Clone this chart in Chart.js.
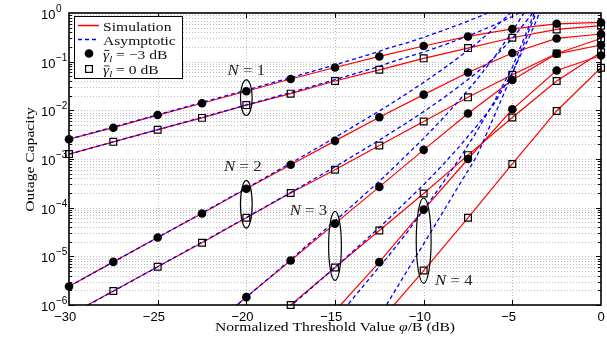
<!DOCTYPE html>
<html lang="en">
<head>
  <meta charset="UTF-8">
  <title>Outage Capacity vs Normalized Threshold</title>
  <style>
    body {
      margin: 0;
      background: #fff;
    }
    canvas {
      display: block;
    }
  </style>
</head>
<body>
<canvas id="outageChart" width="607" height="347"></canvas>

<script src="https://cdn.jsdelivr.net/npm/chart.js"></script>
<script>
  // threshold grid of the simulated points (dB)
  const thresholdDb = [-30, -27.5, -25, -22.5, -20, -17.5, -15, -12.5, -10, -7.5, -5, -2.5, 0];

  // simulation, circles = gamma_l -3 dB, squares = gamma_l 0 dB
  const simN1Minus3 = [2.55e-3, 4.4e-3, 8.0e-3, 1.4e-2, 2.47e-2, 4.4e-2, 7.6e-2, 0.128, 0.21, 0.33, 0.47, 0.60, 0.64];
  const simN1Zero = [1.26e-3, 2.25e-3, 4.0e-3, 7.0e-3, 1.28e-2, 2.2e-2, 4.0e-2, 6.8e-2, 0.117, 0.19, 0.31, 0.46, 0.55];
  const simN2Minus3 = [2.4e-6, 7.7e-6, 2.44e-5, 7.6e-5, 2.44e-4, 7.6e-4, 2.36e-3, 7.2e-3, 2.1e-2, 6.0e-2, 0.151, 0.30, 0.37];
  const simN2Zero = [6.2e-7, 1.94e-6, 6.1e-6, 1.9e-5, 6.2e-5, 2.0e-4, 6.0e-4, 1.9e-3, 5.9e-3, 1.85e-2, 5.4e-2, 0.147, 0.30];
  const simN3Minus3 = [null, null, null, 2.6e-7, 1.45e-6, 8.2e-6, 4.7e-5, 2.67e-4, 1.54e-3, 8.6e-3, 4.2e-2, 0.145, 0.22];
  const simN3Zero = [null, null, null, null, 1.7e-7, 1.0e-6, 5.9e-6, 3.4e-5, 1.96e-4, 1.2e-3, 7.1e-3, 4.0e-2, 0.156];
  const simN4Minus3 = [null, null, null, null, null, null, 7.5e-7, 7.6e-6, 9.1e-5, 1.0e-3, 1.05e-2, 6.6e-2, 0.134];
  const simN4Zero = [null, null, null, null, null, null, null, 4.5e-7, 5.1e-6, 6.2e-5, 7.9e-4, 9.7e-3, 7.5e-2];

  // asymptotic curves, read on a finer grid near the top
  const asymDb = [-30, -25, -20, -17.5, -15, -12.5, -12, -11, -10, -9, -8, -7, -6, -5, -4, -3, -2];
  const asymN1Minus3 = [2.55e-3, 8.1e-3, 2.6e-2, 4.7e-2, 8.6e-2, 0.162, 0.19, 0.24, 0.318, 0.426, 0.579, 0.805, 1.15, null, null, null, null];
  const asymN1Zero = [1.26e-3, 4.0e-3, 1.29e-2, 2.32e-2, 4.27e-2, 8.0e-2, 9.3e-2, 0.122, 0.157, 0.210, 0.286, 0.398, 0.569, 0.847, 1.33, null, null];
  const asymN2Minus3 = [2.41e-6, 2.43e-5, 2.5e-4, 8.2e-4, 2.76e-3, 9.7e-3, 1.26e-2, 2.15e-2, 3.75e-2, 6.7e-2, 0.124, 0.240, 0.491, 1.09, null, null, null];
  const asymN2Zero = [6.05e-7, 6.1e-6, 6.28e-5, 2.05e-4, 6.9e-4, 2.44e-3, 3.2e-3, 5.4e-3, 9.4e-3, 1.68e-2, 3.11e-2, 6.0e-2, 0.123, 0.30, 0.85, 2.5, null];
  const asymN3Minus3 = [null, 4.4e-8, 1.45e-6, 8.56e-6, 5.3e-5, 3.5e-4, 5.2e-4, 1.17e-3, 2.65e-3, 6.34e-3, 1.6e-2, 4.29e-2, 0.126, 0.415, 1.6, null, null];
  const asymN3Zero = [null, null, 1.61e-7, 9.5e-7, 5.9e-6, 3.9e-5, 5.8e-5, 1.32e-4, 2.96e-4, 7.06e-4, 1.78e-3, 4.78e-3, 1.4e-2, 6.0e-2, 0.35, 2.5, null];
  const asymN4Minus3 = [null, null, null, null, 4.92e-7, 6.11e-6, 1.0e-5, 2.9e-5, 9.1e-5, 2.91e-4, 9.95e-4, 3.72e-3, 1.56e-2, 7.66e-2, 0.6, 5.0, null];
  const asymN4Zero = [null, null, null, null, null, 5.7e-7, 1.15e-6, 4.6e-6, 1.8e-5, 7.2e-5, 2.9e-4, 1.15e-3, 7.9e-3, 5.6e-2, 0.5, 4.0, null];

  // axis ticks
  const xTickValues = [-30, -25, -20, -15, -10, -5, 0];
  const yDecades = [-6, -5, -4, -3, -2, -1, 0];

  // N = k labels and ellipses (data coordinates)
  const groupMarks = [
    {n: '1', label: [-20, 0.067], x: -20, top: 0.0423, bottom: 7.83e-3, halfDb: 0.33},
    {n: '2', label: [-20.2, 7.2e-4], x: -20, top: 3.63e-4, bottom: 3.8e-5, halfDb: 0.33},
    {n: '3', label: [-16.5, 9.1e-5], x: -15, top: 8.4e-5, bottom: 3.2e-6, halfDb: 0.36},
    {n: '4', label: [-8.3, 3.27e-6], x: -10, top: 1.58e-4, bottom: 2.8e-6, halfDb: 0.42}
  ];

  const RED = '#ff0000';
  const BLUE = '#0000ff';
  const SANS = '"Liberation Sans", Arial, sans-serif';
  const SERIF = '"Liberation Serif", "Times New Roman", serif';
  const SERIF_STRETCH = 1.2; // the original serif is wider than Times

  function points(xs, ys) {
    return xs.map((x, i) => ({x: x, y: ys[i]})).filter(p => p.y !== null);
  }

  const curves = [
    {sim: simN1Minus3, asym: asymN1Minus3, marker: 'circle'},
    {sim: simN1Zero, asym: asymN1Zero, marker: 'rect'},
    {sim: simN2Minus3, asym: asymN2Minus3, marker: 'circle'},
    {sim: simN2Zero, asym: asymN2Zero, marker: 'rect'},
    {sim: simN3Minus3, asym: asymN3Minus3, marker: 'circle'},
    {sim: simN3Zero, asym: asymN3Zero, marker: 'rect'},
    {sim: simN4Minus3, asym: asymN4Minus3, marker: 'circle'},
    {sim: simN4Zero, asym: asymN4Zero, marker: 'rect'}
  ];

  const datasets = [];
  curves.forEach(c => {
    const simPts = points(thresholdDb, c.sim);
    const isCircle = c.marker === 'circle';
    // markers on top
    datasets.push({
      data: simPts.filter(p => p.y >= 0.99e-6 && p.y <= 1),
      showLine: false,
      pointStyle: c.marker,
      pointRadius: isCircle ? 4.3 : 4.8,
      pointHoverRadius: isCircle ? 4.3 : 4.8,
      pointBackgroundColor: isCircle ? '#000' : 'rgba(0,0,0,0)',
      pointBorderColor: '#000',
      pointBorderWidth: isCircle ? 0 : 1.2,
      clip: 8,
      order: 0
    });
    datasets.push({
      data: points(asymDb, c.asym),
      showLine: true,
      borderColor: BLUE,
      borderWidth: 1.3,
      borderDash: [4, 3],
      pointRadius: 0,
      order: 1
    });
    datasets.push({
      data: simPts,
      showLine: true,
      borderColor: RED,
      borderWidth: 1.2,
      pointRadius: 0,
      order: 2
    });
  });

  // draws a list of text parts in a row; each part: {t, size, italic, dy, bar}
  function drawRich(ctx, parts, x, y, align, stretch) {
    ctx.save();
    ctx.textBaseline = 'alphabetic';
    ctx.textAlign = 'left';
    let w = 0;
    parts.forEach(p => {
      ctx.font = (p.italic ? 'italic ' : '') + p.size + 'px ' + SERIF;
      w += ctx.measureText(p.t).width;
    });
    const start = align === 'center' ? x - w * stretch / 2 : x;
    ctx.translate(start, y);
    ctx.scale(stretch, 1);
    let cx = 0;
    parts.forEach(p => {
      ctx.font = (p.italic ? 'italic ' : '') + p.size + 'px ' + SERIF;
      const pw = ctx.measureText(p.t).width;
      ctx.fillText(p.t, cx, p.dy || 0);
      if (p.bar) {
        ctx.beginPath();
        ctx.lineWidth = 0.8;
        ctx.moveTo(cx + pw * 0.2, -p.size * 0.62);
        ctx.lineTo(cx + pw * 1.05, -p.size * 0.62);
        ctx.stroke();
      }
      cx += pw;
    });
    ctx.restore();
  }

  function gammaLabel(value) {
    return [
      {t: 'γ', size: 13, italic: true, bar: true},
      {t: 'l', size: 9, italic: true, dy: 3},
      {t: ' = ' + value + ' dB', size: 13}
    ];
  }

  const decorPlugin = {
    id: 'decor',
    beforeDatasetsDraw(chart) {
      const {ctx, chartArea: a, scales: {x, y}} = chart;
      ctx.save();
      ctx.strokeStyle = '#bdbdbd';
      ctx.lineWidth = 1;
      ctx.setLineDash([1, 2]);
      ctx.beginPath();
      xTickValues.slice(1, -1).forEach(v => {
        const px = Math.round(x.getPixelForValue(v)) + 0.5;
        ctx.moveTo(px, a.top);
        ctx.lineTo(px, a.bottom);
      });
      for (let e = -6; e < 0; e++) {
        for (let m = 1; m <= 9; m++) {
          if (e === -6 && m === 1) continue;
          const py = Math.round(y.getPixelForValue(m * Math.pow(10, e))) + 0.5;
          ctx.moveTo(a.left, py);
          ctx.lineTo(a.right, py);
        }
      }
      ctx.stroke();
      ctx.restore();
    },
    afterDatasetsDraw(chart) {
      const {ctx, chartArea: a, scales: {x, y}} = chart;
      ctx.save();

      // frame and inner ticks
      ctx.strokeStyle = '#000';
      ctx.lineWidth = 1;
      ctx.beginPath();
      xTickValues.slice(1, -1).forEach(v => {
        const px = Math.round(x.getPixelForValue(v)) + 0.5;
        ctx.moveTo(px, a.bottom);
        ctx.lineTo(px, a.bottom - 5);
        ctx.moveTo(px, a.top);
        ctx.lineTo(px, a.top + 5);
      });
      for (let e = -6; e < 0; e++) {
        for (let m = 1; m <= 9; m++) {
          const py = Math.round(y.getPixelForValue(m * Math.pow(10, e))) + 0.5;
          const len = m === 1 ? 5 : 3;
          ctx.moveTo(a.left, py);
          ctx.lineTo(a.left + len, py);
          ctx.moveTo(a.right, py);
          ctx.lineTo(a.right - len, py);
        }
      }
      ctx.stroke();
      ctx.lineWidth = 1.6;
      ctx.strokeRect(a.left, a.top, a.right - a.left, a.bottom - a.top);

      // ellipses and N labels
      ctx.lineWidth = 1.2;
      ctx.fillStyle = '#222';
      groupMarks.forEach(g => {
        const cx = x.getPixelForValue(g.x);
        const top = y.getPixelForValue(g.top);
        const bottom = y.getPixelForValue(g.bottom);
        const rx = x.getPixelForValue(g.x + g.halfDb) - cx;
        ctx.beginPath();
        ctx.ellipse(cx, (top + bottom) / 2, rx, (bottom - top) / 2, 0, 0, Math.PI * 2);
        ctx.stroke();
        drawRich(ctx, [
          {t: 'N', size: 14, italic: true},
          {t: ' = ' + g.n, size: 14}
        ], x.getPixelForValue(g.label[0]), y.getPixelForValue(g.label[1]) + 5, 'center', SERIF_STRETCH);
      });

      // legend box
      const lx = a.left + 5, ly = a.top + 3, lw = 108, lh = 62;
      ctx.fillStyle = '#fff';
      ctx.fillRect(lx, ly, lw, lh);
      ctx.strokeStyle = '#000';
      ctx.lineWidth = 1;
      ctx.strokeRect(lx + 0.5, ly + 0.5, lw, lh);
      const rowY = [ly + 9.5, ly + 23.5, ly + 37.5, ly + 53];
      ctx.lineWidth = 1.5;
      ctx.strokeStyle = RED;
      ctx.beginPath();
      ctx.moveTo(lx + 4, rowY[0]);
      ctx.lineTo(lx + 25, rowY[0]);
      ctx.stroke();
      ctx.strokeStyle = BLUE;
      ctx.setLineDash([4, 3]);
      ctx.beginPath();
      ctx.moveTo(lx + 4, rowY[1]);
      ctx.lineTo(lx + 25, rowY[1]);
      ctx.stroke();
      ctx.setLineDash([]);
      ctx.fillStyle = '#000';
      ctx.beginPath();
      ctx.arc(lx + 15, rowY[2], 4.3, 0, Math.PI * 2);
      ctx.fill();
      ctx.strokeStyle = '#000';
      ctx.lineWidth = 1.2;
      ctx.strokeRect(lx + 11.6, rowY[3] - 3.4, 6.8, 6.8);
      ctx.fillStyle = '#111';
      ctx.strokeStyle = '#111';
      const tx = lx + 29;
      drawRich(ctx, [{t: 'Simulation', size: 13}], tx, rowY[0] + 5, 'left', SERIF_STRETCH);
      drawRich(ctx, [{t: 'Asymptotic', size: 13}], tx, rowY[1] + 5, 'left', SERIF_STRETCH);
      drawRich(ctx, gammaLabel('−3'), tx, rowY[2] + 5, 'left', SERIF_STRETCH);
      drawRich(ctx, gammaLabel('0'), tx, rowY[3] + 5, 'left', SERIF_STRETCH);

      // x tick labels: digits centred on the tick, minus hanging left
      ctx.fillStyle = '#000';
      ctx.font = '13px ' + SANS;
      ctx.textBaseline = 'alphabetic';
      xTickValues.forEach(v => {
        const px = x.getPixelForValue(v);
        const digits = String(Math.abs(v));
        const dw = ctx.measureText(digits).width;
        ctx.textAlign = 'left';
        ctx.fillText(digits, px - dw / 2, a.bottom + 15.5);
        if (v < 0) {
          ctx.textAlign = 'right';
          ctx.fillText('−', px - dw / 2, a.bottom + 15.5);
        }
      });

      // y tick labels 10^k
      yDecades.forEach(e => {
        const py = y.getPixelForValue(Math.pow(10, e));
        ctx.textAlign = 'left';
        ctx.font = '13px ' + SANS;
        ctx.fillText('10', a.left - 28, py + 6);
        const w10 = ctx.measureText('10').width;
        ctx.font = '10px ' + SANS;
        ctx.fillText(e === 0 ? '0' : '−' + Math.abs(e), a.left - 28 + w10 + 0.5, py - 1);
      });

      // axis titles
      drawRich(ctx, [
        {t: 'Normalized Threshold Value ', size: 13},
        {t: 'φ', size: 13, italic: true},
        {t: '/B (dB)', size: 13}
      ], (a.left + a.right) / 2, a.bottom + 26, 'center', SERIF_STRETCH);

      ctx.translate(a.left - 39.5, (a.top + a.bottom) / 2 + 0.5);
      ctx.rotate(-Math.PI / 2);
      drawRich(ctx, [{t: 'Outage Capacity', size: 13}], 0, 4, 'center', SERIF_STRETCH);

      ctx.restore();
    }
  };

  new Chart(document.getElementById('outageChart'), {
    type: 'scatter',
    data: {datasets: datasets},
    options: {
      responsive: false,
      animation: false,
      devicePixelRatio: 1,
      layout: {padding: {left: 61, top: 13, right: 6, bottom: 34}},
      plugins: {
        legend: {display: false},
        tooltip: {enabled: false}
      },
      scales: {
        x: {
          type: 'linear',
          min: -30,
          max: 0,
          ticks: {display: false, stepSize: 5},
          grid: {display: false},
          border: {display: false}
        },
        y: {
          type: 'logarithmic',
          min: 1e-6,
          max: 1,
          ticks: {display: false},
          grid: {display: false},
          border: {display: false}
        }
      }
    },
    plugins: [decorPlugin]
  });
</script>
</body>
</html>
